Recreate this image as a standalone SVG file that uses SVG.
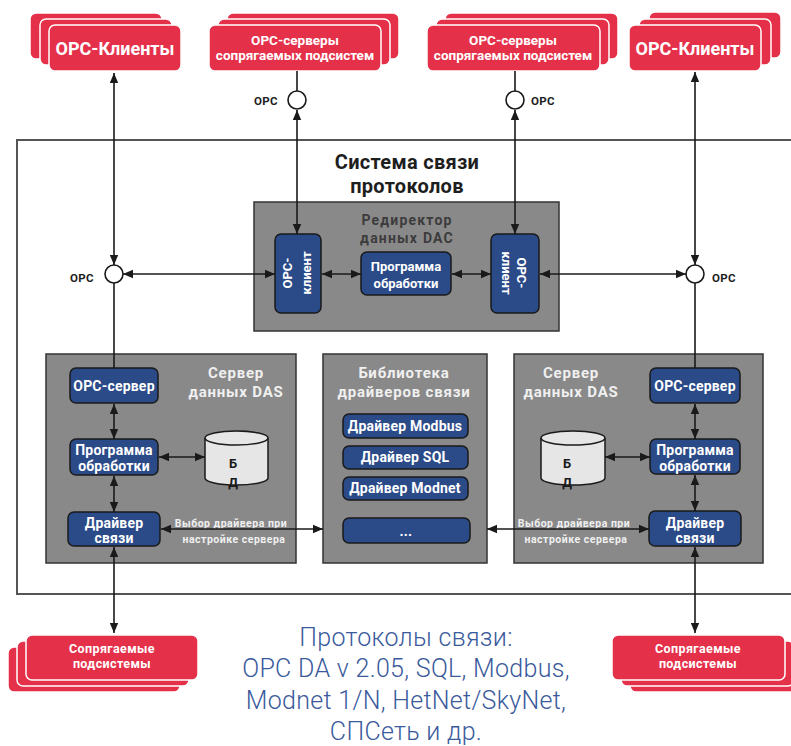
<svg xmlns="http://www.w3.org/2000/svg" width="791" height="746" viewBox="0 0 791 746">
  <defs>
    <marker id="ah" viewBox="0 0 10 10" refX="10" refY="5" markerWidth="10" markerHeight="10" markerUnits="userSpaceOnUse" orient="auto-start-reverse">
      <path d="M0,0.8 L10,5 L0,9.2 Z" fill="#1a1a1a"/>
    </marker>
    <style>
      .red { fill: #e5304a; stroke: #ffffff; stroke-width: 1.5; }
      .grey { fill: #898989; stroke: #333333; stroke-width: 1.5; }
      .blue { fill: #2b4a88; stroke: #1a1a1a; stroke-width: 1.5; }
      .ln { stroke: #1a1a1a; stroke-width: 1.6; fill: none; }
      .both { marker-start: url(#ah); marker-end: url(#ah); }
      .port { fill: #ffffff; stroke: #1a1a1a; stroke-width: 1.6; }
      text { font-family: Roboto, "Noto Sans", "Liberation Sans", sans-serif; font-weight: bold; text-anchor: middle; }
      .wt { fill: #ffffff; }
      .lt { fill: #f0f0f0; letter-spacing: 0.8px; font-size: 15px; }
      .opc { fill: #1e1e1e; font-size: 11.5px; letter-spacing: 0.3px; }
      .bx { font-size: 14px; fill: #ffffff; letter-spacing: 0.2px; }
      .note { font-size: 10.5px; fill: #f0f0f0; letter-spacing: 0.5px; }
      .sub { font-size: 12.5px; fill: #ffffff; letter-spacing: 0.4px; }
      .db { fill: #e6e6e6; stroke: #1a1a1a; stroke-width: 1.5; }
      .dbt { font-size: 13px; fill: #1a1a1a; }
      .cap { font-weight: 300; letter-spacing: 0.3px; }
    </style>
  </defs>

  <!-- outer system frame, open to the right -->
  <path d="M795,140 H17 V594 H795" fill="none" stroke="#555555" stroke-width="2"/>

  <text x="407" y="169" font-size="20" fill="#1e1e1e" letter-spacing="0.3">Система связи</text>
  <text x="407" y="193" font-size="20" fill="#1e1e1e" letter-spacing="0.3">протоколов</text>

  <!-- external OPC clients, left -->
  <g id="opc-clients-left">
    <rect class="red" x="30" y="13" width="132" height="46" rx="6"/>
    <rect class="red" x="40" y="19" width="132" height="46" rx="6"/>
    <rect class="red" x="49" y="25" width="132" height="46" rx="6"/>
    <text class="wt" x="115" y="55" font-size="18">OPC-Клиенты</text>
  </g>

  <!-- external OPC servers, left -->
  <g id="opc-servers-left">
    <rect class="red" x="227" y="13" width="172" height="46" rx="6"/>
    <rect class="red" x="218" y="19" width="172" height="46" rx="6"/>
    <rect class="red" x="209" y="25" width="172" height="46" rx="6"/>
    <text class="wt" x="295" y="45" font-size="13.5">OPC-серверы</text>
    <text class="wt" x="295" y="60" font-size="13.5">сопрягаемых подсистем</text>
  </g>

  <!-- external OPC servers, right -->
  <g id="opc-servers-right">
    <rect class="red" x="445" y="13" width="173" height="46" rx="6"/>
    <rect class="red" x="436" y="19" width="173" height="46" rx="6"/>
    <rect class="red" x="427" y="25" width="173" height="46" rx="6"/>
    <text class="wt" x="513" y="45" font-size="13.5">OPC-серверы</text>
    <text class="wt" x="513" y="60" font-size="13.5">сопрягаемых подсистем</text>
  </g>

  <!-- external OPC clients, right -->
  <g id="opc-clients-right">
    <rect class="red" x="649" y="12" width="132" height="46" rx="6"/>
    <rect class="red" x="639" y="19" width="132" height="46" rx="6"/>
    <rect class="red" x="629" y="25" width="132" height="46" rx="6"/>
    <text class="wt" x="695" y="55" font-size="18">OPC-Клиенты</text>
  </g>

  <!-- DAC data redirector -->
  <g id="dac">
    <rect class="grey" x="254" y="202" width="305" height="129"/>
    <text x="407" y="225" font-size="14" fill="#3c3c3c" letter-spacing="1.2">Редиректор</text>
    <text x="407" y="243" font-size="14" fill="#3c3c3c" letter-spacing="1.2">данных DAC</text>
  </g>
  <g id="dac-client-left">
    <rect class="blue" x="275" y="234" width="46" height="79" rx="6"/>
    <text class="wt" font-size="13" transform="translate(298,273) rotate(-90)"><tspan x="0" y="-6">OPC-</tspan><tspan x="0" y="13">клиент</tspan></text>
  </g>
  <g id="dac-program">
    <rect class="blue" x="361" y="252" width="90" height="43" rx="6"/>
    <text class="wt" x="406" y="271" font-size="13">Программа</text>
    <text class="wt" x="406" y="288" font-size="13">обработки</text>
  </g>
  <g id="dac-client-right">
    <rect class="blue" x="491" y="234" width="48" height="79" rx="6"/>
    <text class="wt" font-size="13" transform="translate(515,273) rotate(90)"><tspan x="0" y="-2">OPC-</tspan><tspan x="0" y="13">клиент</tspan></text>
  </g>

  <!-- DAS server, left -->
  <g id="das-left">
    <rect class="grey" x="46" y="354" width="250" height="209"/>
    <text class="lt" x="236" y="378">Сервер</text>
    <text class="lt" x="236" y="397">данных DAS</text>
    <text class="note" x="231" y="527">Выбор драйвера при</text>
    <text class="note" x="234" y="543">настройке сервера</text>
  </g>
  <g id="das-left-opc-server">
    <rect class="blue" x="70" y="368" width="88" height="35" rx="6"/>
    <text class="bx" x="114" y="391">OPC-сервер</text>
  </g>
  <g id="das-left-program">
    <rect class="blue" x="70" y="439" width="88" height="36" rx="6"/>
    <text class="bx" x="114" y="455">Программа</text>
    <text class="bx" x="114" y="471">обработки</text>
  </g>
  <g id="das-left-driver">
    <rect class="blue" x="68" y="512" width="92" height="34" rx="6"/>
    <text class="bx" x="114" y="528">Драйвер</text>
    <text class="bx" x="114" y="543">связи</text>
  </g>
  <g id="das-left-db">
    <path class="db" d="M205,438 V478 A31.5,7 0 0 0 268,478 V438"/>
    <ellipse class="db" cx="236.5" cy="438" rx="31.5" ry="7"/>
    <text class="dbt" x="233" y="468">Б</text>
    <text class="dbt" x="233" y="487">Д</text>
  </g>

  <!-- driver library -->
  <g id="driver-library">
    <rect class="grey" x="323" y="354" width="164" height="209"/>
    <text class="lt" x="404" y="378" letter-spacing="0.6">Библиотека</text>
    <text class="lt" x="404" y="397" letter-spacing="0.6">драйверов связи</text>
  </g>
  <g id="driver-modbus">
    <rect class="blue" x="343" y="414" width="125" height="24" rx="6"/>
    <text class="bx" x="405" y="431">Драйвер Modbus</text>
  </g>
  <g id="driver-sql">
    <rect class="blue" x="343" y="446" width="125" height="23" rx="6"/>
    <text class="bx" x="405" y="462">Драйвер SQL</text>
  </g>
  <g id="driver-modnet">
    <rect class="blue" x="343" y="477" width="125" height="23" rx="6"/>
    <text class="bx" x="405" y="493">Драйвер Modnet</text>
  </g>
  <g id="driver-more">
    <rect class="blue" x="343" y="518" width="127" height="25" rx="6"/>
    <text class="bx" x="406" y="536" font-size="12">...</text>
  </g>

  <!-- DAS server, right -->
  <g id="das-right">
    <rect class="grey" x="514" y="354" width="249" height="209"/>
    <text class="lt" x="571" y="378">Сервер</text>
    <text class="lt" x="571" y="397">данных DAS</text>
    <text class="note" x="574" y="527">Выбор драйвера при</text>
    <text class="note" x="576" y="543">настройке сервера</text>
  </g>
  <g id="das-right-opc-server">
    <rect class="blue" x="650" y="368" width="90" height="35" rx="6"/>
    <text class="bx" x="695" y="391">OPC-сервер</text>
  </g>
  <g id="das-right-program">
    <rect class="blue" x="650" y="439" width="90" height="35" rx="6"/>
    <text class="bx" x="695" y="455">Программа</text>
    <text class="bx" x="695" y="471">обработки</text>
  </g>
  <g id="das-right-driver">
    <rect class="blue" x="649" y="511" width="92" height="35" rx="6"/>
    <text class="bx" x="695" y="528">Драйвер</text>
    <text class="bx" x="695" y="543">связи</text>
  </g>
  <g id="das-right-db">
    <path class="db" d="M541,438 V478 A32,7 0 0 0 605,478 V438"/>
    <ellipse class="db" cx="573" cy="438" rx="32" ry="7"/>
    <text class="dbt" x="567" y="468">Б</text>
    <text class="dbt" x="567" y="487">Д</text>
  </g>

  <!-- interfaced subsystems -->
  <g id="subsystems-left">
    <rect class="red" x="8" y="647" width="172" height="45" rx="6"/>
    <rect class="red" x="17" y="641" width="172" height="45" rx="6"/>
    <rect class="red" x="26" y="635" width="172" height="45" rx="6"/>
    <text class="sub" x="112" y="653">Сопрягаемые</text>
    <text class="sub" x="112" y="668">подсистемы</text>
  </g>
  <g id="subsystems-right">
    <rect class="red" x="630" y="647" width="173" height="45" rx="6"/>
    <rect class="red" x="621" y="641" width="173" height="45" rx="6"/>
    <rect class="red" x="612" y="635" width="173" height="45" rx="6"/>
    <text class="sub" x="698" y="653">Сопрягаемые</text>
    <text class="sub" x="698" y="668">подсистемы</text>
  </g>

  <!-- protocols caption -->
  <g id="protocols" font-size="25" fill="#3a5a9c">
    <text class="cap" x="406" y="646">Протоколы связи:</text>
    <text class="cap" x="406" y="677">OPC DA v 2.05, SQL, Modbus,</text>
    <text class="cap" x="406" y="709" letter-spacing="0.9">Modnet 1/N, HetNet/SkyNet,</text>
    <text class="cap" x="406" y="740">СПСеть и др.</text>
  </g>

  <!-- connectors -->
  <g id="connectors">
    <!-- left column -->
    <line class="ln both" x1="114" y1="73" x2="114" y2="265"/>
    <line class="ln" x1="114" y1="283" x2="114" y2="368"/>
    <line class="ln both" x1="123" y1="274" x2="275" y2="274"/>
    <line class="ln both" x1="114" y1="404" x2="114" y2="439"/>
    <line class="ln both" x1="114" y1="476" x2="114" y2="512"/>
    <line class="ln both" x1="159" y1="457" x2="205" y2="457"/>
    <line class="ln both" x1="161" y1="529" x2="323" y2="529"/>
    <line class="ln both" x1="114" y1="547" x2="114" y2="633"/>

    <!-- OPC servers to DAC clients -->
    <line class="ln" x1="297" y1="71" x2="297" y2="91"/>
    <line class="ln both" x1="297" y1="110" x2="297" y2="234"/>
    <line class="ln" x1="515" y1="71" x2="515" y2="91"/>
    <line class="ln both" x1="515" y1="110" x2="515" y2="234"/>

    <!-- inside DAC -->
    <line class="ln both" x1="322" y1="274" x2="361" y2="274"/>
    <line class="ln both" x1="452" y1="274" x2="491" y2="274"/>
    <line class="ln both" x1="540" y1="274" x2="686" y2="274"/>

    <!-- right column -->
    <line class="ln both" x1="695" y1="72" x2="695" y2="265"/>
    <line class="ln" x1="695" y1="283" x2="695" y2="368"/>
    <line class="ln both" x1="695" y1="404" x2="695" y2="439"/>
    <line class="ln both" x1="695" y1="475" x2="695" y2="511"/>
    <line class="ln both" x1="605" y1="457" x2="650" y2="457"/>
    <line class="ln both" x1="487" y1="529" x2="649" y2="529"/>
    <line class="ln both" x1="695" y1="547" x2="695" y2="633"/>

    <!-- OPC interface ports -->
    <circle class="port" cx="114" cy="274" r="9"/>
    <circle class="port" cx="695" cy="274" r="9"/>
    <circle class="port" cx="297" cy="100" r="9"/>
    <circle class="port" cx="515" cy="100" r="9"/>
    <text class="opc" x="82" y="282">OPC</text>
    <text class="opc" x="724" y="282">OPC</text>
    <text class="opc" x="266" y="105">OPC</text>
    <text class="opc" x="543" y="105">OPC</text>
  </g>
</svg>
